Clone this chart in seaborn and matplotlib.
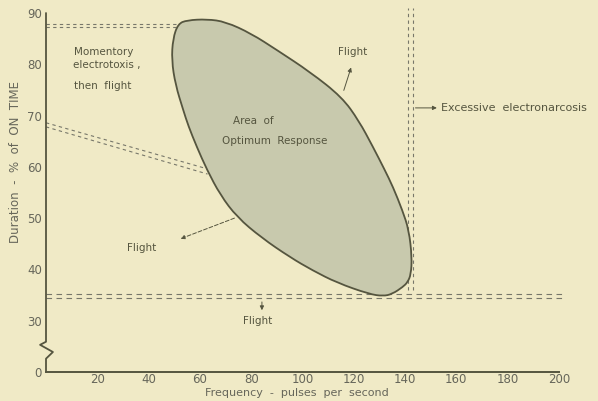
import numpy as np
import pandas as pd
import matplotlib
matplotlib.use("Agg")
import matplotlib.pyplot as plt
from matplotlib.path import Path
from matplotlib.patches import PathPatch
import seaborn as sns

# outline of the "optimum response" area (freq, duration)
area_freq = [51.5, 55, 62.8, 70, 80, 90, 103, 115.4, 122, 127.5, 132, 135.3, 139,
             141.5, 142.7, 142.3, 141, 139.2, 135, 131.4, 126, 113.5, 104, 95.1,
             84, 74.5, 68, 62.8, 58.8, 55.5, 53.5, 50.5, 49, 49.5]
area_dur = [87.9, 88.6, 88.8, 88.3, 86, 82.8, 78.5, 73.6, 69, 63.9, 59.5, 56.1, 51.5,
            47.7, 42.4, 39, 37.5, 36.6, 35.2, 34.8, 35.2, 37.4, 39.8, 42.4,
            46.2, 50.2, 54.5, 59.4, 63.9, 68, 71.1, 76, 80.8, 85]

# double dashed boundary lines: (x0, x1, y0, y1)
bounds = {
    "top_a": (0, 52, 87.8, 87.8),
    "top_b": (0, 51, 87.3, 87.3),
    "diag_a": (0, 63, 68.6, 59.6),
    "diag_b": (0, 63, 67.8, 58.6),
    "low_a": (0, 201.5, 35.2, 35.2),
    "low_b": (0, 201.5, 34.4, 34.4),
    "vert_a": (141.3, 141.3, 36, 91),
    "vert_b": (143.0, 143.0, 36, 91),
}

x_ticks = [20, 40, 60, 80, 100, 120, 140, 160, 180, 200]
y_ticks = [20, 30, 40, 50, 60, 70, 80, 90]
y_tick_labels = ["0", "30", "40", "50", "60", "70", "80", "90"]

bg = "#f0eac6"
ink = "#55553f"
fill = "#c8c9ad"

sns.set_style("white")
plt.rcParams["font.family"] = ["DejaVu Sans"]

fig = plt.figure(figsize=(5.98, 4.01), dpi=100, facecolor=bg)
ax = fig.add_axes([46 / 598, 1 - 372 / 401, 518 / 598, (372 - 7.9) / 401])
ax.set_facecolor(bg)

# smooth closed outline: the read points act as quadratic control points
pts = np.column_stack([area_freq, area_dur])
mids = (pts + np.roll(pts, -1, axis=0)) / 2
verts = [mids[-1]]
codes = [Path.MOVETO]
for p, m in zip(pts, mids):
    verts += [p, m]
    codes += [Path.CURVE3, Path.CURVE3]
ax.add_patch(PathPatch(Path(verts, codes), facecolor=fill, edgecolor=ink,
                       linewidth=1.3, zorder=3))

for name, (x0, x1, y0, y1) in bounds.items():
    seg = pd.DataFrame({"x": [x0, x1], "y": [y0, y1]})
    sns.lineplot(data=seg, x="x", y="y", sort=False, estimator=None, color="#77776a",
                 linewidth=0.8, linestyle=(0, (5, 4)) if "low" in name else (0, (3, 3)),
                 ax=ax, zorder=2)

ax.set_xlim(0, 202)
ax.set_ylim(20, 91)

# axes: bottom spine only to 200, left axis drawn with a break
sns.despine(ax=ax, left=True)
ax.spines["bottom"].set_bounds(0, 200)
ax.spines["bottom"].set_color(ink)
ax.spines["bottom"].set_linewidth(1.4)
ax.plot([0, 0, 2.7, -2.3, 0, 0], [20, 22.6, 23.9, 25.3, 25.9, 90],
        color=ink, linewidth=1.3, clip_on=False, zorder=4)

ax.set_xticks(x_ticks)
ax.set_yticks(y_ticks)
ax.set_yticklabels(y_tick_labels)
ax.tick_params(axis="both", direction="in", length=4, width=1, colors=ink,
               labelsize=8.5, labelcolor="#66665a")
ax.tick_params(axis="x", pad=1)
ax.tick_params(axis="y", pad=3)

ax.set_xlabel("Frequency  -  pulses  per  second", fontsize=8, color="#66665a")
ax.xaxis.set_label_coords((297 - 46) / 518, -16 / 364)
ax.set_ylabel("Duration  -  %  of  ON  TIME", fontsize=8.5, color="#66665a")
ax.yaxis.set_label_coords(-24 / 518, (372 - 162) / 364)

txt = dict(fontsize=7.5, color=ink, ha="center", va="center")
ax.text(22.6, 82.4, "Momentory", **txt)
ax.text(23.5, 79.9, "electrotoxis ,", **txt)
ax.text(22, 75.7, "then  flight", **txt)
ax.text(80.7, 69, "Area  of", **txt)
ax.text(89.3, 65, "Optimum  Response", **txt)
ax.text(119.7, 82.4, "Flight", **txt)
ax.text(37.4, 44.2, "Flight", **txt)
ax.text(82.7, 30, "Flight", **txt)
ax.text(154, 71.5, "Excessive  electronarcosis", fontsize=8, color=ink,
        ha="left", va="center", clip_on=False)

arrow = dict(arrowstyle="-|>", color=ink, lw=0.7, mutation_scale=6)
ax.annotate("", xy=(119.3, 79.9), xytext=(115.8, 74.4), arrowprops=arrow)
ax.annotate("", xy=(51.5, 45.8), xytext=(74.5, 50.2),
            arrowprops=dict(arrow, linestyle=(0, (4, 2))))
ax.annotate("", xy=(84.2, 31.5), xytext=(84.2, 34.2), arrowprops=arrow)
ax.annotate("", xy=(153.5, 71.5), xytext=(143, 71.5), arrowprops=arrow)

fig.savefig("out.png", dpi=100, facecolor=bg)
